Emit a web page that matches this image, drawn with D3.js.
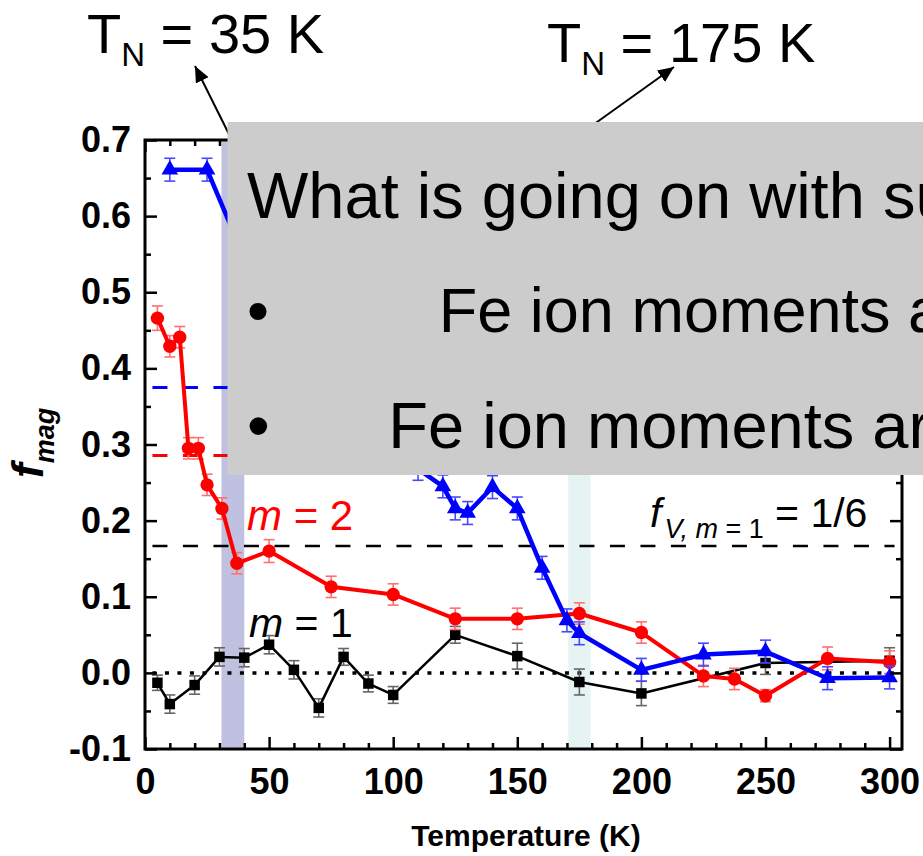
<!DOCTYPE html>
<html>
<head>
<meta charset="utf-8">
<script src="https://cdn.jsdelivr.net/npm/d3@7"></script>
<style>
body { margin: 0; background: #fff; }
svg { display: block; font-family: "Liberation Sans", Arial, sans-serif; }
</style>
</head>
<body>
<svg id="chart" width="923" height="856"></svg>
<script>
// m = 1 (black squares)
var m1Temp = [5, 10, 20, 30, 40, 50, 60, 70, 80, 90, 100, 125, 150, 175, 200, 250, 300];
var m1Frac = [-0.013, -0.041, -0.016, 0.021, 0.020, 0.037, 0.004, -0.046, 0.021, -0.014, -0.029, 0.050, 0.022, -0.012, -0.027, 0.013, 0.016];
var m1Err  = [0.010, 0.012, 0.012, 0.012, 0.012, 0.012, 0.012, 0.012, 0.011, 0.011, 0.011, 0.011, 0.017, 0.017, 0.016, 0.015, 0.017];

// m = 2 (red circles)
var m2Temp = [5, 10, 14, 17.5, 21.5, 25, 31, 37, 50, 75, 100, 125, 150, 175, 200, 225, 237.5, 250, 275, 300];
var m2Frac = [0.466, 0.429, 0.441, 0.295, 0.295, 0.247, 0.216, 0.144, 0.160, 0.113, 0.103, 0.071, 0.071, 0.078, 0.053, -0.004, -0.008, -0.030, 0.019, 0.014];
var m2Err  = [0.016, 0.014, 0.014, 0.014, 0.014, 0.014, 0.014, 0.014, 0.015, 0.014, 0.014, 0.014, 0.014, 0.014, 0.014, 0.014, 0.014, 0.008, 0.015, 0.015];

// m = 3 (blue triangles)
var m3Temp = [10, 25, 40, 110, 120, 125, 130, 140, 150, 160, 170, 175, 200, 225, 250, 275, 300];
var m3Frac = [0.661, 0.661, 0.545, 0.268, 0.245, 0.216, 0.210, 0.244, 0.216, 0.138, 0.069, 0.052, 0.004, 0.024, 0.028, -0.007, -0.006];
var m3Err  = [0.015, 0.015, 0.015, 0.015, 0.015, 0.015, 0.015, 0.015, 0.015, 0.015, 0.015, 0.015, 0.015, 0.015, 0.015, 0.015, 0.015];

// horizontal reference levels: 3/8, 2/7, 1/6, 0
var refLevels = [0.375, 2 / 7, 1 / 6, 0];

// Neel temperature bands
var bandFrom = [30.8, 170.5];
var bandTo   = [40, 179.5];

var xTicks = [0, 50, 100, 150, 200, 250, 300];
var yTicks = [-0.1, 0.0, 0.1, 0.2, 0.3, 0.4, 0.5, 0.6, 0.7];
var xMinor = [10, 20, 30, 40, 60, 70, 80, 90, 110, 120, 130, 140, 160, 170, 180, 190, 210, 220, 230, 240, 260, 270, 280, 290];
var yMinor = [-0.05, 0.05, 0.15, 0.25, 0.35, 0.45, 0.55, 0.65];

var boxLines = ["What is going on with such", "Fe ion moments are", "Fe ion moments are"];

var svg = d3.select("#chart");
var plotL = 145, plotR = 902, plotT = 140, plotB = 749;

var x = d3.scaleLinear().domain([0, 305]).range([plotL, plotR]);
var y = d3.scaleLinear().domain([-0.1, 0.7]).range([plotB, plotT]);

// bands
var bandColors = ["#c0c0e0", "#e6f3f3"];
svg.selectAll("rect.band")
    .data(bandFrom)
    .enter().append("rect")
    .attr("x", d => x(d))
    .attr("width", (d, i) => x(bandTo[i]) - x(d))
    .attr("y", plotT)
    .attr("height", plotB - plotT)
    .attr("fill", (d, i) => bandColors[i]);

// reference lines
var refStyle = [
    {color: "#0000ff", width: 3, dash: "15,15.5"},
    {color: "#ff0000", width: 3, dash: "15,15.5"},
    {color: "#000000", width: 2.5, dash: "15,15.5"},
    {color: "#000000", width: 3.5, dash: "4,8.5"}
];
svg.selectAll("line.ref")
    .data(refLevels)
    .enter().append("line")
    .attr("x1", x(3))
    .attr("x2", x(302))
    .attr("y1", d => y(d))
    .attr("y2", d => y(d))
    .attr("stroke", (d, i) => refStyle[i].color)
    .attr("stroke-width", (d, i) => refStyle[i].width)
    .attr("stroke-dasharray", (d, i) => refStyle[i].dash);

function drawSeries(temps, vals, errs, color, errColor, lineWidth, symbol, symSize) {
    var g = svg.append("g");
    var pts = temps.map((t, i) => ({t: t, v: vals[i], e: errs[i]}));
    // error bars
    var eb = g.selectAll("g.eb").data(pts).enter().append("g")
        .attr("stroke", errColor).attr("stroke-width", 1.6);
    eb.append("line")
        .attr("x1", d => x(d.t)).attr("x2", d => x(d.t))
        .attr("y1", d => y(d.v - d.e)).attr("y2", d => y(d.v + d.e));
    eb.append("line")
        .attr("x1", d => x(d.t) - 5.5).attr("x2", d => x(d.t) + 5.5)
        .attr("y1", d => y(d.v - d.e)).attr("y2", d => y(d.v - d.e));
    eb.append("line")
        .attr("x1", d => x(d.t) - 5.5).attr("x2", d => x(d.t) + 5.5)
        .attr("y1", d => y(d.v + d.e)).attr("y2", d => y(d.v + d.e));
    // line
    var line = d3.line().x(d => x(d.t)).y(d => y(d.v));
    g.append("path")
        .datum(pts)
        .attr("d", line)
        .attr("fill", "none")
        .attr("stroke", color)
        .attr("stroke-width", lineWidth)
        .attr("stroke-linejoin", "round");
    // markers
    g.selectAll("path.sym").data(pts).enter().append("path")
        .attr("d", d3.symbol().type(symbol).size(symSize))
        .attr("transform", d => "translate(" + x(d.t) + "," + y(d.v) + ")")
        .attr("fill", color);
}

drawSeries(m1Temp, m1Frac, m1Err, "#000000", "#666666", 2.5, d3.symbolSquare, 110);
drawSeries(m2Temp, m2Frac, m2Err, "#ff0000", "#ff7070", 4, d3.symbolCircle, 140);
drawSeries(m3Temp, m3Frac, m3Err, "#0000ff", "#4848ff", 4.5, d3.symbolTriangle, 120);

// axes
var fmt = d => d.toFixed(1);

svg.append("g")
    .attr("transform", "translate(0," + plotB + ")")
    .call(d3.axisBottom(x).tickValues(xTicks).tickSize(-12).tickPadding(19).tickFormat(d3.format("d")));
svg.append("g")
    .attr("transform", "translate(0," + plotB + ")")
    .call(d3.axisBottom(x).tickValues(xMinor).tickSize(-6).tickFormat(""));
svg.append("g")
    .attr("transform", "translate(0," + plotT + ")")
    .call(d3.axisTop(x).tickValues(xTicks).tickSize(-12).tickFormat(""));
svg.append("g")
    .attr("transform", "translate(0," + plotT + ")")
    .call(d3.axisTop(x).tickValues(xMinor).tickSize(-6).tickFormat(""));

svg.append("g")
    .attr("transform", "translate(" + plotL + ",0)")
    .call(d3.axisLeft(y).tickValues(yTicks).tickSize(-12).tickPadding(14).tickFormat(fmt));
svg.append("g")
    .attr("transform", "translate(" + plotL + ",0)")
    .call(d3.axisLeft(y).tickValues(yMinor).tickSize(-6).tickFormat(""));
svg.append("g")
    .attr("transform", "translate(" + plotR + ",0)")
    .call(d3.axisRight(y).tickValues(yTicks).tickSize(-12).tickFormat(""));
svg.append("g")
    .attr("transform", "translate(" + plotR + ",0)")
    .call(d3.axisRight(y).tickValues(yMinor).tickSize(-6).tickFormat(""));

svg.selectAll(".domain").remove();
svg.selectAll(".tick line").attr("stroke", "#000").attr("stroke-width", 2.5);
svg.selectAll(".tick text")
    .attr("font-family", "Liberation Sans, Arial, sans-serif")
    .attr("font-size", "36px")
    .attr("font-weight", "bold")
    .attr("fill", "#000");

svg.append("rect")
    .attr("x", plotL).attr("y", plotT)
    .attr("width", plotR - plotL).attr("height", plotB - plotT)
    .attr("fill", "none").attr("stroke", "#000").attr("stroke-width", 3);

// axis titles
svg.append("text")
    .attr("x", 526).attr("y", 846)
    .attr("text-anchor", "middle")
    .attr("font-size", "30px").attr("font-weight", "bold")
    .text("Temperature (K)");

var yTitle = svg.append("text")
    .attr("transform", "translate(43,478) rotate(-90)")
    .attr("font-weight", "bold").attr("font-style", "italic");
yTitle.append("tspan").attr("font-size", "44px").text("f");
yTitle.append("tspan").attr("font-size", "27px").attr("dy", 11).text("mag");

// series labels
var lab2 = svg.append("text").attr("x", 247).attr("y", 530)
    .attr("font-size", "42px").attr("fill", "#ff0000");
lab2.append("tspan").attr("font-style", "italic").text("m");
lab2.append("tspan").text(" = 2");

var lab1 = svg.append("text").attr("x", 249).attr("y", 637)
    .attr("font-size", "41px").attr("fill", "#000");
lab1.append("tspan").attr("font-style", "italic").text("m");
lab1.append("tspan").text(" = 1");

var labV = svg.append("text").attr("x", 650).attr("y", 527).attr("fill", "#000");
labV.append("tspan").attr("font-size", "41px").attr("font-style", "italic").text("f");
labV.append("tspan").attr("font-size", "27px").attr("dy", 11).attr("dx", 3).attr("font-style", "italic").text("V, m");
labV.append("tspan").attr("font-size", "27px").text(" = 1");
labV.append("tspan").attr("font-size", "41px").attr("dy", -11).text(" = 1/6");

// arrows
svg.append("defs").append("marker")
    .attr("id", "head")
    .attr("markerUnits", "userSpaceOnUse")
    .attr("markerWidth", 18).attr("markerHeight", 14)
    .attr("refX", 16).attr("refY", 7)
    .attr("orient", "auto")
    .append("path")
    .attr("d", "M0,0 L16,7 L0,14 Z")
    .attr("fill", "#000");

var arrowFromT = [35, 172];
var arrowTip = [[195, 66], [674, 67]];
svg.selectAll("line.arrow")
    .data(arrowFromT)
    .enter().append("line")
    .attr("x1", d => x(d)).attr("y1", plotT)
    .attr("x2", (d, i) => arrowTip[i][0]).attr("y2", (d, i) => arrowTip[i][1])
    .attr("stroke", "#000").attr("stroke-width", 2)
    .attr("marker-end", "url(#head)");

// Neel temperature labels
var tnText = ["35 K", "175 K"];
var tnPos = [[87, 53], [547, 62]];
tnText.forEach(function(t, i) {
    var tx = svg.append("text")
        .attr("x", tnPos[i][0]).attr("y", tnPos[i][1])
        .attr("font-size", "56px").attr("fill", "#000");
    tx.append("tspan").text("T");
    tx.append("tspan").attr("font-size", "33px").attr("dy", 13).text("N");
    tx.append("tspan").attr("dy", -13).text(" = " + t);
});

// grey overlay box
svg.append("rect")
    .attr("x", 227.5).attr("y", 122)
    .attr("width", 923 - 227.5).attr("height", 475 - 122)
    .attr("fill", "#cccccc");

var lineX = [247, 438.8, 388.3];
var lineY = [218, 332, 448];
var lineSize = [65, 63, 65];
boxLines.forEach(function(t, i) {
    svg.append("text")
        .attr("x", lineX[i]).attr("y", lineY[i])
        .attr("font-size", lineSize[i] + "px").attr("fill", "#000")
        .text(t);
    if (i > 0) {
        svg.append("text")
            .attr("x", 247).attr("y", lineY[i])
            .attr("font-size", lineSize[i] + "px").attr("fill", "#000")
            .text("\u2022");
    }
});
</script>
</body>
</html>
